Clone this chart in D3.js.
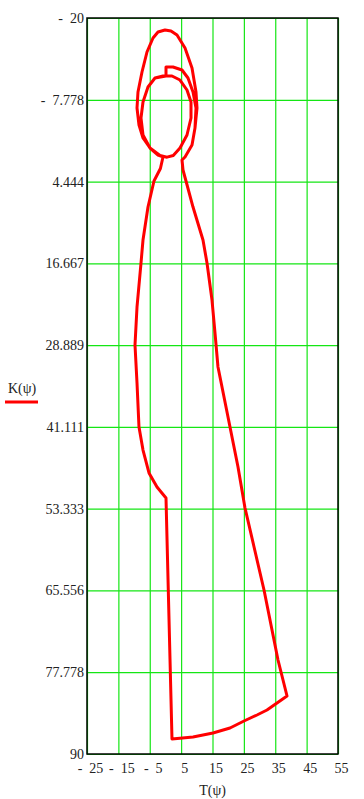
<!DOCTYPE html>
<html>
<head>
<meta charset="utf-8">
<script src="https://cdn.jsdelivr.net/npm/d3@7"></script>
<style>
  html, body { margin: 0; padding: 0; background: #fff; }
  svg { display: block; }
  text { font-family: "Liberation Serif", "Times New Roman", serif; font-size: 14px; fill: #222; white-space: pre; }
</style>
</head>
<body>
<script>
// ---- data ----
const xTicks = [-25, -15, -5, 5, 15, 25, 35, 45, 55];
const xTickLabels = ["-  25", "-  15", "-  5", "5", "15", "25", "35", "45", "55"];
const yTicks = [-20, -7.778, 4.444, 16.667, 28.889, 41.111, 53.333, 65.556, 77.778, 90];
const yTickLabels = ["-  20", "-  7.778", "4.444", "16.667", "28.889", "41.111", "53.333", "65.556", "77.778", "90"];
const xLabel = "T(\u03C8)";
const seriesName = "K(\u03C8)";

// T(psi) values
const T = [
  // tab curve (from right merge up to the small step)
  9.42, 9.74, 8.79, 7.19, 5.28, 2.41, 0.18, 0.18,
  // inner loop, one and a half turns
  -3.33, -5.56, -7.15, -7.79, -7.15, -4.92, -1.73, 0.50, 2.50, 4.64, 6.87, 8.15, 8.15, 6.87, 4.64, 2.09, -0.78,
  -3.33, -5.56, -7.15, -7.79, -7.15, -4.92, -2.37, -0.78,
  // left side going down
  -1.60, -3.65, -5.56, -7.15, -7.79, -9.06, -9.70, -9.06, -8.43, -7.15, -5.24, -2.69, 0.18,
  // vertical drop and bottom arc
  2.09, 8.79, 15.16, 20.58, 25.04, 29.18, 32.37, 38.75,
  // right side going up
  35.88, 31.42, 25.36, 23.13, 20.58, 18.03, 16.75, 15.80, 14.84, 13.25, 11.97, 8.79, 6.55, 5.60, 5.28,
  // outer loop
  6.24, 8.47, 9.42, 10.06, 9.74, 8.47, 6.24, 3.69, 1.77, -0.14, -2.37, -3.96, -5.88, -7.47, -8.75, -9.06, -8.43, -7.15, -4.92, -2.37, -0.78
];
// K(psi) values
const K = [
  -3.56, -6.55, -8.94, -11.03, -12.23, -12.68, -12.68, -11.33,
  -11.03, -9.69, -7.45, -5.05, -2.51, -0.57, 0.55, 0.80, 0.55, -0.57, -2.51, -5.05, -7.45, -9.24, -10.73, -11.33, -11.33,
  -11.03, -9.69, -7.45, -5.05, -2.51, -0.57, 0.48, 0.77,
  2.50, 4.36, 8.25, 13.18, 16.62, 23.19, 28.87, 34.55, 41.13, 44.57, 48.00, 50.10, 51.74,
  87.76, 87.46, 86.86, 86.11, 85.07, 84.17, 83.42, 81.33,
  75.95, 65.49, 53.23, 47.11, 41.13, 35.15, 32.16, 27.08, 22.15, 16.62, 13.18, 8.25, 4.36, 2.72, 1.22,
  0.77, -1.02, -3.56, -6.55, -8.94, -12.53, -15.52, -17.46, -18.06, -18.21, -17.91, -17.01, -14.92, -11.93, -8.94, -6.55, -4.01, -2.07, -0.57, 0.48, 0.77
];

// ---- layout ----
const W = 364, H = 799;
const m = { left: 87, right: 338, top: 18, bottom: 754 };

const svg = d3.select("body").append("svg").attr("width", W).attr("height", H);

const x = d3.scaleLinear().domain([-25, 55]).range([m.left, m.right]);
const y = d3.scaleLinear().domain([-20, 90]).range([m.top, m.bottom]);

const gridColor = "#14e614";

// vertical grid + x labels
const xAxis = svg.append("g")
  .attr("transform", `translate(0,${m.bottom})`)
  .call(d3.axisBottom(x).tickValues(xTicks)
    .tickFormat((d, i) => xTickLabels[i])
    .tickSize(-(m.bottom - m.top)).tickPadding(0));
xAxis.select(".domain").remove();
xAxis.selectAll("line").attr("stroke", gridColor).attr("stroke-width", 1.2);
xAxis.selectAll("text").attr("y", 19).attr("dy", 0).attr("dx", 3)
  .attr("fill", "#222").attr("font-size", 14).attr("font-family", "Liberation Serif, serif");

// horizontal grid + y labels
const yAxis = svg.append("g")
  .attr("transform", `translate(${m.left},0)`)
  .call(d3.axisLeft(y).tickValues(yTicks)
    .tickFormat((d, i) => yTickLabels[i])
    .tickSize(-(m.right - m.left)).tickPadding(0));
yAxis.select(".domain").remove();
yAxis.selectAll("line").attr("stroke", gridColor).attr("stroke-width", 1.2);
yAxis.selectAll("text").attr("x", -3).attr("dy", "0.32em")
  .attr("fill", "#222").attr("font-size", 14).attr("font-family", "Liberation Serif, serif");

// frame
svg.append("rect")
  .attr("x", m.left).attr("y", m.top)
  .attr("width", m.right - m.left).attr("height", m.bottom - m.top)
  .attr("fill", "none").attr("stroke", "#000").attr("stroke-width", 1.5);

// curve
const pts = T.map((t, i) => [t, K[i]]);
const line = d3.line().x(d => x(d[0])).y(d => y(d[1])).curve(d3.curveLinear);
svg.append("path")
  .datum(pts)
  .attr("d", line)
  .attr("fill", "none")
  .attr("stroke", "#ff0000")
  .attr("stroke-width", 3)
  .attr("stroke-linejoin", "round")
  .attr("stroke-linecap", "round");

// axis title
svg.append("text")
  .attr("x", (m.left + m.right) / 2).attr("y", 795)
  .attr("text-anchor", "middle")
  .text(xLabel);

// legend
svg.append("text")
  .attr("x", 8).attr("y", 393)
  .text(seriesName);
svg.append("line")
  .attr("x1", 5).attr("x2", 38).attr("y1", 402).attr("y2", 402)
  .attr("stroke", "#ff0000").attr("stroke-width", 3);
</script>
</body>
</html>
